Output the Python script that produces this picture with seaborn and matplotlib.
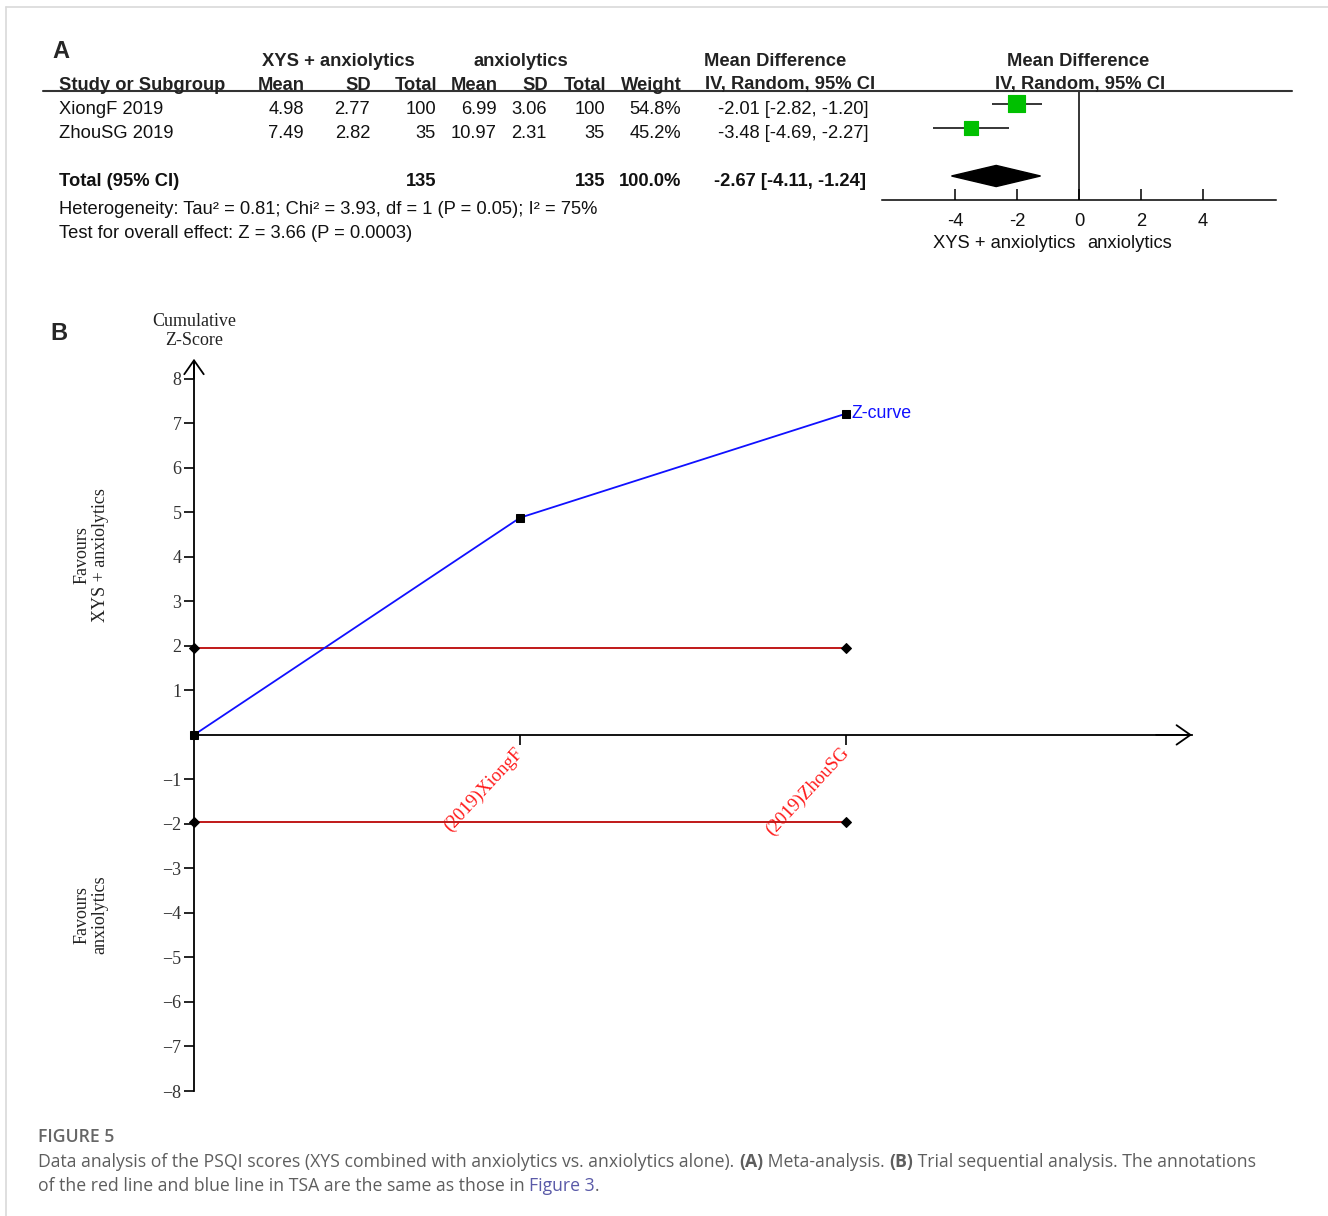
import numpy as np
import pandas as pd
import matplotlib
matplotlib.use("Agg")
import matplotlib.pyplot as plt
import seaborn as sns
from matplotlib.lines import Line2D
from matplotlib.patches import Polygon

W, H = 1328, 1216

# ---- panel A: meta-analysis table ----
studies = ["XiongF 2019", "ZhouSG 2019"]
exp_mean = [4.98, 7.49]
exp_sd = [2.77, 2.82]
exp_n = [100, 35]
ctl_mean = [6.99, 10.97]
ctl_sd = [3.06, 2.31]
ctl_n = [100, 35]
weight = [54.8, 45.2]
md = [-2.01, -3.48]
ci_lo = [-2.82, -4.69]
ci_hi = [-1.20, -2.27]
pooled_md, pooled_lo, pooled_hi = -2.67, -4.11, -1.24
forest_ticks = [-4, -2, 0, 2, 4]

# ---- panel B: trial sequential analysis ----
tsa_labels = ["(2019)XiongF", "(2019)ZhouSG"]
tsa_x = [0, 1, 2]
z_curve = [0, 4.88, 7.22]
boundary = 1.96

sns.set_style("white")
plt.rcParams["font.family"] = ["Liberation Sans", "DejaVu Sans"]
SERIF = ["Liberation Serif", "DejaVu Serif"]


def fx(px):
    return px / W


def fy(py):
    return 1 - py / H


fig = plt.figure(figsize=(W / 100, H / 100), dpi=100)

# light page frame
fig.add_artist(Line2D([fx(6), 1], [fy(7), fy(7)], color="#d9d9d9", lw=1.2))
fig.add_artist(Line2D([fx(6), fx(6)], [fy(7), 0], color="#d9d9d9", lw=1.2))

# ---------------- panel A ----------------
fig.text(fx(52), fy(52), "A", fontsize=17, fontweight="bold", va="center")

FS = 13.2
hdr_y1, hdr_y2 = 61, 85
fig.text(fx(338), fy(hdr_y1), "XYS + anxiolytics", ha="center", va="center", fontsize=FS, fontweight="bold", color="#222")
fig.text(fx(521), fy(hdr_y1), "anxiolytics", ha="center", va="center", fontsize=FS, fontweight="bold", color="#222")
fig.text(fx(775), fy(hdr_y1), "Mean Difference", ha="center", va="center", fontsize=FS, fontweight="bold", color="#222")
fig.text(fx(1078), fy(hdr_y1), "Mean Difference", ha="center", va="center", fontsize=FS, fontweight="bold", color="#222")

col_right = [304, 370, 436, 497, 547, 605, 681]
headers = ["Mean", "SD", "Total", "Mean", "SD", "Total", "Weight"]
fig.text(fx(59), fy(hdr_y2), "Study or Subgroup", va="center", fontsize=FS, fontweight="bold", color="#222")
for xr, h in zip(col_right, headers):
    fig.text(fx(xr + 1), fy(hdr_y2), h, ha="right", va="center", fontsize=FS, fontweight="bold", color="#222")
fig.text(fx(705), fy(hdr_y2), "IV, Random, 95% CI", va="center", fontsize=FS, fontweight="bold", color="#222")
fig.text(fx(1080), fy(hdr_y2), "IV, Random, 95% CI", ha="center", va="center", fontsize=FS, fontweight="bold", color="#222")
fig.add_artist(Line2D([fx(43), fx(1292)], [fy(91), fy(91)], color="#333", lw=1.5))


def row_y(r):
    # table text sits a little below the forest marks of the same row
    return 110 + 24 * r


for i, name in enumerate(studies):
    y = fy(row_y(i))
    vals = [f"{exp_mean[i]:.2f}", f"{exp_sd[i]:.2f}", f"{exp_n[i]}",
            f"{ctl_mean[i]:.2f}", f"{ctl_sd[i]:.2f}", f"{ctl_n[i]}", f"{weight[i]:.1f}%"]
    fig.text(fx(59), y, name, va="center", fontsize=FS, color="#111")
    for xr, v in zip(col_right, vals):
        fig.text(fx(xr), y, v, ha="right", va="center", fontsize=FS, color="#111")
    fig.text(fx(868), y, f"{md[i]:.2f} [{ci_lo[i]:.2f}, {ci_hi[i]:.2f}]", ha="right", va="center", fontsize=FS, color="#111")

yt = fy(row_y(3) - 1)
fig.text(fx(59), yt, "Total (95% CI)", va="center", fontsize=FS, fontweight="bold", color="#111")
fig.text(fx(436), yt, f"{sum(exp_n)}", ha="right", va="center", fontsize=FS, fontweight="bold", color="#111")
fig.text(fx(605), yt, f"{sum(ctl_n)}", ha="right", va="center", fontsize=FS, fontweight="bold", color="#111")
fig.text(fx(681), yt, f"{sum(weight):.1f}%", ha="right", va="center", fontsize=FS, fontweight="bold", color="#111")
fig.text(fx(866), yt, f"{pooled_md:.2f} [{pooled_lo:.2f}, {pooled_hi:.2f}]", ha="right", va="center",
         fontsize=FS, fontweight="bold", color="#111")
fig.text(fx(59), fy(209), "Heterogeneity: Tau² = 0.81; Chi² = 3.93, df = 1 (P = 0.05); I² = 75%",
         va="center", fontsize=FS, color="#111")
fig.text(fx(59), fy(234), "Test for overall effect: Z = 3.66 (P = 0.0003)", va="center", fontsize=FS, color="#111")

# forest plot
axf = fig.add_axes([fx(882), fy(200), (1276 - 882) / W, (200 - 91) / H])
rows = list(range(len(studies)))
axf.hlines(rows, ci_lo, ci_hi, color="black", lw=1.1)
sns.scatterplot(x=md, y=rows, size=weight, sizes=(100, 150), marker="s", color="#00c000",
                edgecolor="#00c000", legend=False, ax=axf, zorder=3)
total_row = 3
axf.add_patch(Polygon([[pooled_lo, total_row], [pooled_md, total_row - 0.44],
                       [pooled_hi, total_row], [pooled_md, total_row + 0.44]],
                      closed=True, color="black"))
axf.axvline(0, color="black", lw=1.1)
axf.set_xlim(-6.35, 6.35)
axf.set_ylim(4, -0.54)
axf.set_yticks([])
axf.set_xticks(forest_ticks)
axf.set_xticklabels([str(t) for t in forest_ticks], fontsize=FS, color="#111")
axf.tick_params(axis="x", direction="in", length=8, width=1.1, pad=9, color="black", bottom=True)
for s in ["top", "left", "right"]:
    axf.spines[s].set_visible(False)
axf.spines["bottom"].set_color("black")
axf.spines["bottom"].set_linewidth(1.1)
axf.set_facecolor("none")
fig.text(fx(1075), fy(243), "XYS + anxiolytics", ha="right", va="center", fontsize=FS, color="#111")
fig.text(fx(1087), fy(243), "anxiolytics", ha="left", va="center", fontsize=FS, color="#111")

# ---------------- panel B ----------------
fig.text(fx(50), fy(333), "B", fontsize=17, fontweight="bold", va="center")

ax = fig.add_axes([fx(194), fy(1091), (1192 - 194) / W, (1091 - 361) / H])
ax.set_facecolor("none")
df_z = pd.DataFrame({"x": tsa_x, "z": z_curve})
sns.lineplot(data=df_z, x="x", y="z", color="#1010ff", lw=1.3, marker="s", ms=6,
             mfc="black", mec="black", ax=ax, zorder=4, clip_on=False)
for sign in (1, -1):
    df_b = pd.DataFrame({"x": [tsa_x[0], tsa_x[-1]], "z": [sign * boundary] * 2})
    sns.lineplot(data=df_b, x="x", y="z", color="#c01818", lw=1.4, marker="D", ms=5,
                 mfc="black", mec="black", ax=ax, zorder=3, clip_on=False)

ax.annotate("Z-curve", xy=(tsa_x[-1], z_curve[-1]), xytext=(4, 0), textcoords="offset points",
            ha="left", va="center", color="#1010ff", fontsize=12.8)

ax.set_xlim(0, 3.06)
ax.set_ylim(-8, 8.4)
ax.set_xlabel("")
ax.set_ylabel("")
for s in ["top", "right"]:
    ax.spines[s].set_visible(False)
# moving the spine resets the ticks, so do it before styling the labels
ax.spines["bottom"].set_position(("data", 0))
ax.spines["left"].set_bounds(-8, 8.4)
for s in ["left", "bottom"]:
    ax.spines[s].set_color("black")
    ax.spines[s].set_linewidth(1.3)

yt_vals = [v for v in range(-8, 9) if v != 0]
ax.set_yticks(yt_vals)
ax.set_yticklabels([f"\u2212{abs(v)}" if v < 0 else str(v) for v in yt_vals],
                   fontfamily=SERIF, fontsize=13, color="#333")
ax.set_xticks(tsa_x[1:])
ax.set_xticklabels(tsa_labels, fontfamily=SERIF, fontsize=13.5, color="#ff1a1a",
                   rotation=47, ha="right", va="center", rotation_mode="anchor")
ax.tick_params(axis="y", direction="out", length=7, width=1.2, pad=2, left=True, color="black")
ax.tick_params(axis="x", direction="out", length=7, width=1.2, pad=4, bottom=True, color="black")

arrow = dict(arrowstyle="->,head_length=0.5,head_width=0.35", lw=1.3, color="black",
             shrinkA=0, shrinkB=0, mutation_scale=20)
ax.annotate("", xy=(0, 8.45), xytext=(0, 8.0), arrowprops=arrow, annotation_clip=False)
ax.annotate("", xy=(3.06, 0), xytext=(2.95, 0), arrowprops=arrow, annotation_clip=False)

fig.text(fx(194), fy(331), "Cumulative\nZ-Score", ha="center", va="center", fontfamily=SERIF,
         fontsize=13, color="#222", linespacing=1.1)
fig.text(fx(91), fy(555), "Favours\nXYS + anxiolytics", ha="center", va="center", rotation=90,
         fontfamily=SERIF, fontsize=13, color="#222", linespacing=1.1)
fig.text(fx(91), fy(915), "Favours\nanxiolytics", ha="center", va="center", rotation=90,
         fontfamily=SERIF, fontsize=13, color="#222", linespacing=1.1)

# ---------------- caption ----------------
CAP = ["Open Sans", "DejaVu Sans"]
CAP_FS = 12.7
renderer = fig.canvas.get_renderer()


def draw_runs(x_px, y_px, runs):
    x = fx(x_px)
    for txt, wt, col in runs:
        t = fig.text(x, fy(y_px), txt, fontfamily=CAP, fontsize=CAP_FS, fontweight=wt,
                     color=col, va="center", ha="left")
        bb = t.get_window_extent(renderer=renderer)
        x += bb.width / W


fig.text(fx(38), fy(1137), "FIGURE 5", fontfamily=CAP, fontsize=CAP_FS, color="#666",
         va="center", fontweight="semibold")
gray = "#5e5e5e"
draw_runs(38, 1162, [
    ("Data analysis of the PSQI scores (XYS combined with anxiolytics vs. anxiolytics alone). ", "normal", gray),
    ("(A)", "bold", gray),
    (" Meta-analysis. ", "normal", gray),
    ("(B)", "bold", gray),
    (" Trial sequential analysis. The annotations", "normal", gray),
])
draw_runs(38, 1186, [
    ("of the red line and blue line in TSA are the same as those in ", "normal", gray),
    ("Figure 3", "normal", "#5a5aa8"),
    (".", "normal", gray),
])

fig.savefig("out.png", dpi=100)
